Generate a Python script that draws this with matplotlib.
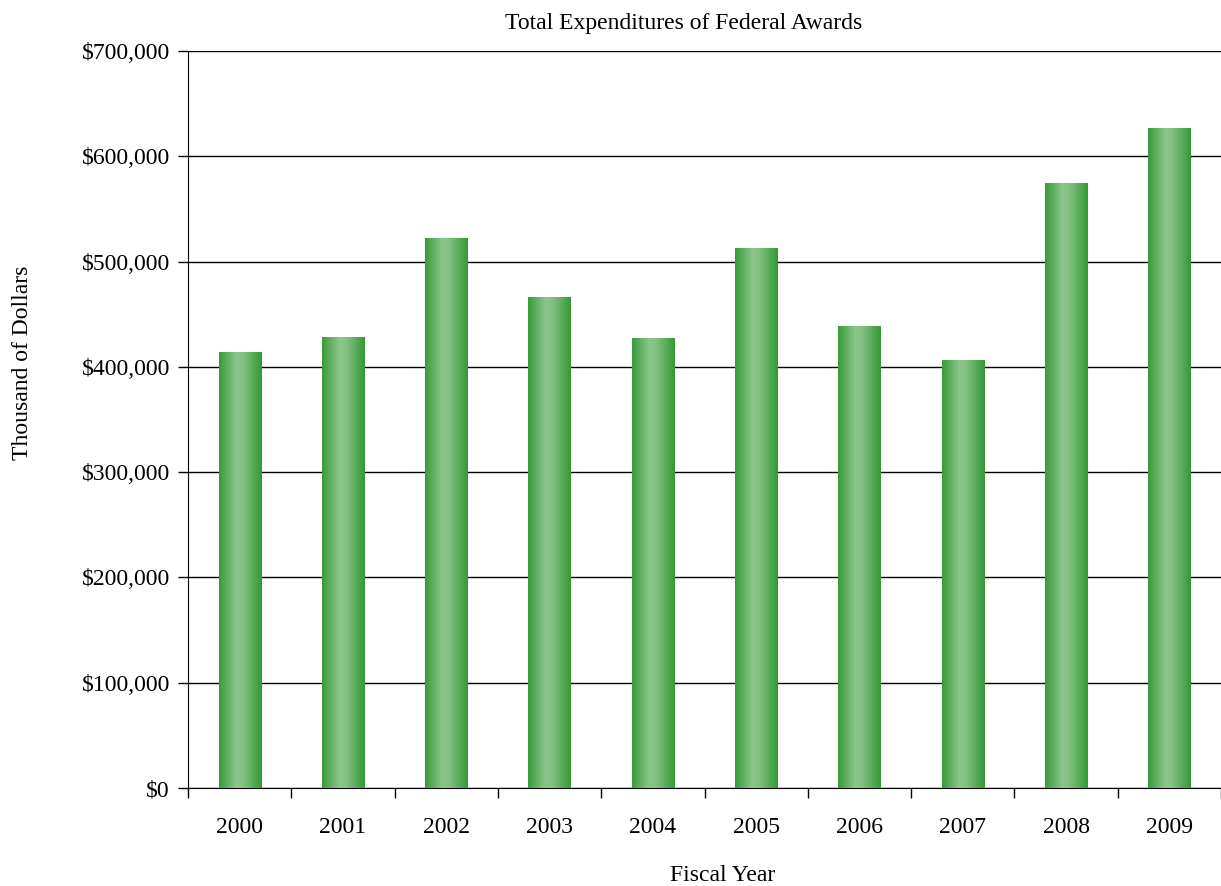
import matplotlib.pyplot as plt
import numpy as np
from matplotlib.colors import LinearSegmentedColormap
from matplotlib.ticker import FuncFormatter

plt.rcParams['font.family'] = ['Liberation Serif', 'DejaVu Serif']

years = ["2000", "2001", "2002", "2003", "2004", "2005", "2006", "2007", "2008", "2009"]
expenditures = [414000, 428000, 522000, 466000, 427000, 513000, 439000, 407000, 575000, 627000]

fig = plt.figure(figsize=(12.21, 8.86), dpi=100)
ax = fig.add_axes([0.154, 0.1106, 0.846, 0.8318])

# green shading across each bar: dark edges, light middle
shade = LinearSegmentedColormap.from_list(
    "barshade", [(0.0, "#389a38"), (0.4, "#8bc58b"), (0.55, "#86c286"), (1.0, "#339933")])
grad = np.linspace(0, 1, 256).reshape(1, -1)

width = 0.41
x = np.arange(len(years))
bars = ax.bar(x, expenditures, width=width, color="none", edgecolor="none", zorder=3)
for b in bars:
    x0, y0 = b.get_x(), b.get_y()
    im = ax.imshow(grad, cmap=shade, aspect="auto", zorder=3,
                   extent=[x0, x0 + b.get_width(), y0, y0 + b.get_height()])
    im.set_clip_path(b)

ax.set_xlim(-0.5, len(years) - 0.5)
ax.set_ylim(0, 700000)
ax.set_yticks(np.arange(0, 700001, 100000))
ax.yaxis.set_major_formatter(FuncFormatter(lambda v, p: "${:,.0f}".format(v)))
ax.set_xticks(x)
ax.set_xticklabels(years)
ax.set_xticks(np.arange(-0.5, len(years)), minor=True)
ax.tick_params(axis="x", which="major", length=0, pad=21, labelsize=17)
ax.tick_params(axis="x", which="minor", length=7, width=1, direction="out")
ax.tick_params(axis="y", length=7, width=1, labelsize=17, pad=6)

ax.grid(axis="y", color="black", linewidth=1, zorder=0)
ax.set_axisbelow(True)
for s in ["top", "right"]:
    ax.spines[s].set_visible(False)

ax.set_title("Total Expenditures of Federal Awards", fontsize=17, pad=16, x=0.48)
ax.set_xlabel("Fiscal Year", fontsize=17)
ax.xaxis.set_label_coords(0.518, -0.105)
ax.set_ylabel("Thousand of Dollars", fontsize=17)
ax.yaxis.set_label_coords(-0.150, 0.577)

fig.savefig("out.png", dpi=100)
